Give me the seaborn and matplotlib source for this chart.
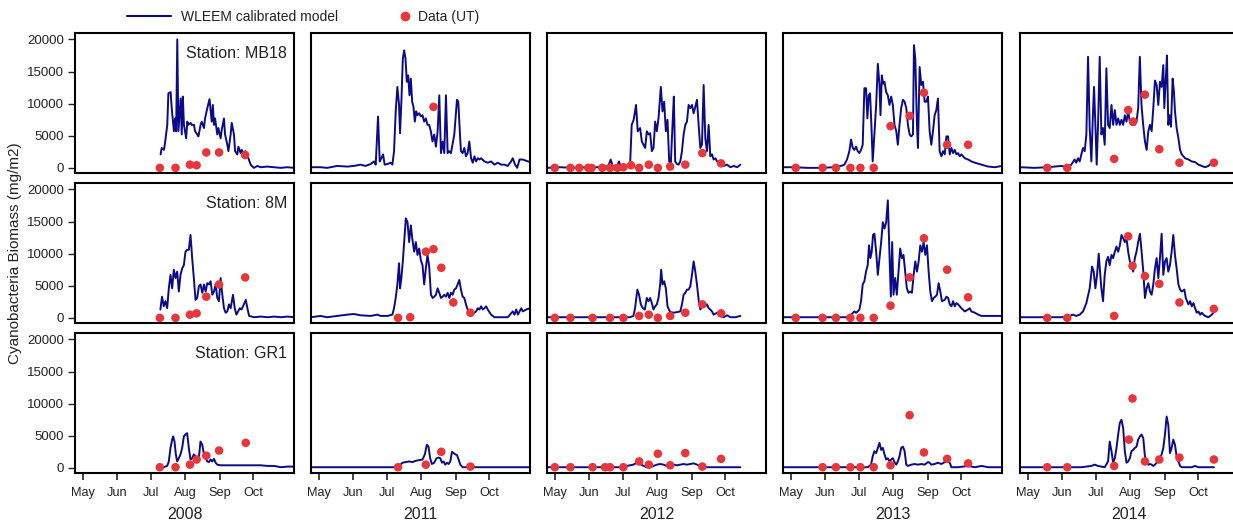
import matplotlib
matplotlib.use("Agg")
import matplotlib.pyplot as plt
import seaborn as sns
import pandas as pd
from matplotlib.lines import Line2D

# ---------------- data (day of year, biomass mg/m2) ----------------
years = ["2008", "2011", "2012", "2013", "2014"]
stations = ["MB18", "8M", "GR1"]
month_days = [121, 152, 182, 213, 244, 274]
month_labels = ["May", "Jun", "Jul", "Aug", "Sep", "Oct"]
y_ticks = [0, 5000, 10000, 15000, 20000]

# WLEEM model, station MB18
model_MB18_2008 = [(191,2100),(192,3100),(194,2800),(195,3900),(197,6700),(198,11600),(200,11800),(201,9300),(203,5700),(204,7700),(205,5700),(206,20000),(207,5700),(209,10800),(210,5200),(211,11100),(212,6700),(214,4600),(215,7200),(216,6700),(218,7000),(219,6700),(221,6700),(222,5700),(224,5200),(225,4900),(227,6700),(228,7200),(230,6200),(231,7700),(233,9300),(235,10700),(237,7200),(238,9800),(239,6700),(240,7700),(242,5200),(243,6200),(245,4600),(246,5900),(248,7700),(249,5200),(251,3600),(252,2600),(254,5200),(255,7000),(257,5200),(258,2600),(260,2100),(261,3300),(263,2300),(264,2800),(266,2100),(267,2600),(269,1800),(270,1500),(272,500),(273,300),(275,0),(278,300),(281,100),(287,200),(293,100),(299,0),(305,100),(311,0)]
model_MB18_2011 = [(114,100),(122.5,100),(128.5,0),(137.6,300),(146.6,200),(152.6,300),(158.6,500),(163,300),(167.7,600),(170.7,1000),(172.2,500),(174.3,8000),(175.8,1000),(177.3,1500),(178.8,2100),(180.3,500),(182.7,600),(185.7,800),(187.2,500),(188.7,2600),(190.2,8800),(191.7,12600),(193.2,9800),(194.1,5400),(195.3,10300),(196.6,17000),(197.8,18300),(199,17000),(200.2,13400),(201.4,14400),(202.6,11300),(203.8,13900),(205,10300),(206.2,9500),(207.4,7200),(208.6,8800),(209.8,8200),(211.3,8500),(212.8,8000),(214.3,8200),(215.8,7200),(217.3,7700),(218.8,6700),(220.3,6700),(221.8,5700),(223.3,4100),(224.8,5200),(226.4,3300),(227.9,5700),(229.4,11300),(230.9,2300),(232.4,4100),(233.9,2300),(235.4,11300),(236.9,2300),(238.4,2600),(239.9,2300),(242.9,5200),(245.3,10600),(246.5,10300),(248,5200),(248.9,2600),(250.4,2300),(251.9,3100),(253.4,1800),(254.9,2300),(256.4,4100),(258,1500),(259.5,800),(261,1800),(262.5,1000),(264,1500),(265.5,1300),(267,1500),(270,1000),(273,800),(276,1000),(279,500),(282,800),(285,500),(288,500),(291,300),(294,1000),(295.5,1500),(297.6,500),(299.5,0),(301.6,1300),(304.6,1300),(307.6,1100),(311,900)]
model_MB18_2012 = [(114,0),(125.5,100),(137.6,0),(149.6,100),(161.6,100),(169.2,300),(171.3,1300),(173.1,300),(176.7,100),(178.8,1000),(180.3,100),(185.7,300),(188.7,300),(190.2,6700),(192,7500),(194.1,9800),(195.6,5700),(197.8,6200),(199.3,4100),(200.8,3600),(202.3,3100),(203.8,5700),(205.3,5200),(206.8,5400),(208.3,2600),(209.8,3100),(211.3,7200),(212.8,5700),(214.3,7700),(216.4,12600),(217.9,8800),(219.4,10300),(220.9,5700),(222.4,7500),(223.9,1000),(225.4,800),(226.9,6700),(228.1,11100),(229.3,1000),(230.9,600),(232.4,500),(233.9,1000),(235.4,2600),(236.9,5200),(238.4,6700),(239.9,7200),(241.4,9800),(242.9,9300),(244.4,9800),(245.9,8500),(247.4,9500),(248.9,10600),(250.4,6700),(251.9,3100),(253.4,3600),(254.9,12900),(256.4,4600),(257.9,2600),(259.4,6700),(260.9,1800),(262.4,2100),(263.9,1300),(265.5,1500),(267,1000),(270,800),(273,300),(276,500),(279,100),(282,300),(285,100),(288,500)]
model_MB18_2013 = [(114,100),(124,100),(136,0),(148.1,0),(160.1,100),(166.2,300),(169.2,500),(171.6,1300),(173.7,2600),(175.2,4400),(176.8,3100),(178.2,2800),(179.7,3300),(181.2,2600),(182.7,2300),(184.2,2800),(185.7,3600),(187.2,12400),(188.7,12400),(189.9,7700),(191.1,11300),(192.3,11600),(193.5,6700),(194.7,1000),(196.2,5200),(197.8,9800),(199.3,16200),(200.8,12900),(201.7,8200),(202.9,14400),(204.1,13100),(205.3,13400),(206.8,11800),(208.3,11300),(209.8,9800),(211.3,11100),(212.8,9800),(214.3,6700),(215.9,5700),(217.3,3600),(218.8,6700),(220.3,9300),(221.9,10600),(223.4,10300),(224.9,9300),(226.4,6700),(227.9,5200),(229.4,4900),(230.9,5200),(231.8,19100),(233,17000),(234.5,6700),(235.4,3100),(236.9,15700),(238.4,12900),(239.9,13400),(241.4,10300),(242.9,10300),(244.4,11100),(245.9,5700),(247.4,3600),(248.9,5700),(250.4,8200),(251.9,9000),(253.4,10800),(254.9,2600),(256.5,1800),(258,2600),(259.5,2100),(261,4900),(262.5,4900),(264,2100),(265.5,3100),(267,2300),(268.5,2800),(270,2100),(271.5,2300),(273,1800),(274.5,2100),(277.5,1500),(280.5,1300),(283.5,1000),(286.6,800),(292.6,500),(298.6,200),(304.6,100),(311,300)]
model_MB18_2014 = [(114,100),(127,0),(139,100),(151.1,300),(157.1,100),(160.1,500),(163.1,1300),(164.6,800),(166.2,1500),(167.7,1000),(169.2,2100),(170.7,3100),(172.2,2600),(173.7,5200),(175.2,17300),(176.7,6200),(178.2,1000),(179.7,8800),(180.6,12600),(181.8,6700),(183,500),(184.2,6700),(185.7,17300),(187.2,5200),(188.7,6200),(190.2,3600),(191.7,15500),(193.2,6700),(194.7,6200),(196.3,9800),(197.8,6700),(199.3,9000),(200.8,6700),(202.3,7700),(203.8,6700),(205.3,7500),(206.8,6700),(208.3,8200),(209.8,7200),(211.3,8800),(212.8,7200),(214.3,6700),(215.8,7700),(217.3,6700),(218.8,7200),(220.3,9300),(221.8,17300),(223.3,9800),(224.8,6700),(226.4,4100),(227.9,2800),(229.4,5700),(230.9,6700),(232.4,5700),(233.9,9300),(235.4,13600),(236.9,12900),(238.4,9800),(239.9,13400),(241.4,12600),(242.9,16000),(243.8,9300),(245,13400),(246.2,17500),(247.4,6700),(248.6,8200),(249.8,6400),(251.3,13900),(252.5,11800),(253.4,8800),(254.9,6200),(256.5,4600),(258,2800),(259.5,2100),(262.5,1500),(265.5,1300),(268.5,1000),(271.5,900),(274.5,500),(277.5,300),(280.5,100),(283.5,300),(286.6,800)]

# WLEEM model, station 8M
model_8M_2008 = [(190.8,1300),(192.3,3300),(193.8,1800),(195.3,2600),(196.9,1500),(198.4,4600),(199.9,6700),(201.4,4600),(202.9,7500),(204.4,6200),(205.9,7200),(207.4,4100),(208.9,6700),(210.4,7700),(211.9,8200),(213.4,10300),(214.9,10600),(216.4,10600),(217.9,12900),(219.4,9300),(220.9,6200),(222.4,2800),(223.9,3100),(225.4,4900),(226.9,5200),(228.5,3900),(230,5200),(231.5,4100),(233,5400),(234.5,5200),(236,5700),(237.5,3600),(239,4100),(240.5,5200),(242,3100),(243.5,2600),(245,6200),(246.5,3600),(248,1500),(249.5,800),(251,1000),(252.5,2100),(254,1500),(256.1,3600),(257.7,1500),(259.2,500),(260.7,1000),(262.2,1500),(263.7,1300),(265.2,1800),(267.6,2800),(269.1,1500),(270.6,300),(275.1,100),(281.1,200),(287.2,100),(293.2,200),(299.2,100),(305.2,200),(311,100)]
model_8M_2011 = [(114,100),(122.5,300),(128.5,100),(137.6,300),(146.6,500),(152.6,600),(158.6,400),(167.7,300),(173.7,500),(176.7,300),(182.7,300),(187.2,500),(188.7,1500),(190.2,3100),(191.7,5200),(193.2,8500),(194.1,4600),(195.3,6200),(196.6,8800),(197.8,11800),(199.3,15500),(200.8,14900),(202.3,11800),(203.8,14400),(205.3,12100),(206.8,10300),(208.3,11800),(209.8,9800),(211.3,10800),(212.8,9000),(214.3,8200),(215.8,5200),(217.3,7700),(218.8,9800),(220.3,8000),(221.9,3600),(223.4,3100),(224.9,3300),(226.4,3600),(227.9,4600),(229.4,3900),(230.9,3100),(232.4,3300),(233.9,3600),(235.4,3300),(236.9,3900),(238.4,3100),(239.9,3900),(241.4,3600),(242.9,4400),(244.4,4600),(245.9,5200),(247.4,5900),(248.9,4400),(250.4,3300),(251.9,3100),(253.4,2100),(254.9,1300),(256.5,500),(258,300),(259.5,500),(261,800),(262.5,1000),(264,1500),(265.5,1300),(267,1800),(268.5,1300),(270,1500),(271.5,1800),(273,1300),(276,500),(279,100),(285,100),(291,100),(295.5,1000),(297,500),(298.6,1300),(300.1,500),(303.1,1500),(304.6,1000),(307.6,1300),(311,1500)]
model_8M_2012 = [(114,100),(125.5,100),(137.6,100),(152.6,100),(167.7,100),(179.7,100),(188.7,100),(191.7,300),(193.2,1500),(195.3,4400),(196.8,3600),(198.4,2100),(200.2,1500),(202,1300),(203.8,3100),(205.3,2600),(206.8,3100),(208.3,2300),(209.8,1300),(211.3,1800),(212.8,2100),(214.3,3100),(215.8,5200),(216.7,7500),(217.9,5200),(219.4,5700),(220.9,4600),(222.4,1800),(224.8,900),(227.9,800),(230.9,900),(233.9,1000),(235.4,2100),(236.9,3600),(238.4,3900),(239.9,4400),(241.4,4400),(242.9,4900),(244.4,6700),(245.9,8800),(247.4,7200),(248.9,5200),(250.4,2800),(251.9,1300),(253.4,1800),(254.9,2300),(256.4,1800),(257.9,2100),(259.4,1500),(260.9,1300),(262.4,1000),(263.9,500),(267,800),(270,300),(273,100),(276,400),(279,100),(283.5,100),(288,300)]
model_8M_2013 = [(114,100),(124,100),(136,100),(148.1,100),(160.1,100),(172.2,100),(175.2,500),(178.2,1000),(179.7,800),(181.2,1000),(182.7,1300),(184.2,2600),(185.7,5200),(187.2,5700),(188.7,7200),(190.2,8200),(191.4,11300),(192.6,9300),(193.8,10300),(195,12900),(196.2,13100),(197.8,10300),(199.3,6700),(200.8,9300),(202.3,11800),(203.8,14900),(205.3,13900),(206.8,14900),(208.3,18300),(209.8,9800),(211,3300),(212.2,11800),(213.4,3600),(214.9,6200),(216.4,3600),(217.9,7200),(219.4,10800),(220.9,9300),(222.4,9800),(223.9,7200),(225.4,4600),(226.9,3900),(228.5,4100),(230,3900),(231.5,6700),(233,8800),(234.5,7200),(236,8800),(237.5,11300),(239,10300),(240.5,11800),(242,9800),(243.5,11300),(245,7200),(246.5,4100),(248,2600),(249.5,3100),(251,3300),(252.5,3600),(254,5400),(255.5,4100),(257,2600),(259.5,2800),(261,3300),(262.5,3100),(264,2100),(265.5,1800),(267,2600),(268.5,1800),(270,2300),(271.5,2100),(274.5,1500),(277.5,1000),(280.5,1300),(282,1500),(283.5,1000),(286.6,800),(289.6,500),(292.6,300),(298.6,300),(304.6,300),(311,300)]
model_8M_2014 = [(114,100),(127,100),(139,100),(151.1,100),(157.1,200),(161.6,500),(164.6,300),(167.7,500),(170.7,1000),(173.7,2300),(176.7,4600),(178.8,8000),(180.3,7200),(181.8,4600),(183.3,6700),(184.8,10000),(186,7200),(187.2,4600),(188.7,2600),(190.2,6700),(191.7,8800),(193.2,9500),(194.7,8200),(196.3,9800),(197.8,9300),(199.3,10300),(200.8,11100),(202.3,10300),(203.8,11300),(205.3,12900),(206.8,12400),(208.3,11800),(209.8,12400),(211.3,10300),(212.8,8800),(214.3,8200),(215.8,7200),(217.3,9300),(218.8,10300),(220.3,11800),(221.9,13100),(223.4,10300),(224.9,7200),(226.4,3100),(227.9,4600),(229.4,5400),(230.9,4100),(232.4,3600),(233.9,5200),(235.4,7700),(236.9,9300),(238.4,6200),(239.9,9300),(241.4,13100),(242.9,6700),(244.4,8800),(245.9,9300),(247.4,7200),(248.9,8200),(250.4,10300),(251.9,12900),(253.4,9800),(254.9,7700),(256.5,5200),(258,4400),(259.5,4100),(261.9,4400),(263.1,3100),(265.5,2100),(267,2600),(268.5,1800),(270,2300),(271.5,1500),(273,800),(274.5,1000),(276,500),(277.5,800),(279,500),(280.5,300),(283.5,100),(286.6,500),(288.4,900)]

# WLEEM model, station GR1
model_GR1_2008 = [(190.8,100),(193.8,100),(196.9,300),(198.4,1000),(199.9,3100),(201.4,4400),(202.3,4900),(203.5,4100),(204.7,2100),(205.9,1000),(207.4,1500),(208.9,2100),(210.4,3100),(211.9,4900),(213.4,5200),(214.9,5400),(216.4,3100),(217.9,1300),(219.4,1500),(220.9,2100),(222.4,1800),(223.9,1000),(225.4,1500),(226.9,4100),(228.5,3600),(230,2100),(231.5,1500),(233,1000),(234.5,900),(236,1300),(237.5,1000),(239,1400),(240.5,800),(242,500),(245,400),(251,400),(257,400),(263.1,400),(269.1,400),(275.1,400),(281.1,400),(287.2,300),(293.2,300),(299.2,100),(305.2,200),(311,200)]
model_GR1_2011 = [(114,100),(128.5,100),(143.6,100),(158.6,100),(173.7,100),(188.7,100),(193.2,300),(196.3,800),(199.3,900),(202.3,1000),(205.3,900),(208.3,1100),(211.3,1200),(214.3,1300),(216.4,2100),(218.2,3600),(219.7,3300),(221.2,1500),(222.7,600),(224.8,800),(226.9,1500),(228.8,1600),(230.3,1500),(231.8,800),(233.3,1000),(234.8,500),(236.3,800),(237.8,600),(239.3,1000),(240.8,2500),(242.3,2300),(243.8,2100),(245.3,2000),(246.8,1300),(248.3,500),(250.4,100),(264,100),(279,100),(294,100),(311,100)]
model_GR1_2012 = [(114,100),(137.6,100),(152.6,100),(167.7,100),(179.7,100),(185.7,300),(191.7,500),(194.7,800),(197.8,600),(200.8,300),(203.8,100),(206.8,100),(209.8,300),(212.8,500),(215.8,600),(218.8,500),(221.8,300),(224.8,400),(227.9,500),(230.9,400),(233.9,500),(236.9,600),(239.9,500),(242.9,600),(245.9,700),(248.9,500),(251.9,300),(254.9,100),(264,100),(276,100),(288,100)]
model_GR1_2013 = [(114,100),(124,100),(136,100),(151.1,100),(166.2,100),(181.2,100),(190.2,100),(193.2,500),(194.7,1800),(196.2,2600),(197.8,2300),(199.3,3100),(200.8,3900),(202.3,2800),(203.8,3100),(205.3,2100),(206.8,1300),(208.3,1500),(209.8,1000),(211.3,1300),(212.8,1500),(214.3,900),(215.9,500),(217.3,1000),(218.8,1800),(220.3,3100),(221.9,3300),(223.4,2600),(224.9,500),(226.4,300),(229.4,500),(232.4,600),(235.4,500),(238.4,600),(241.4,500),(244.4,900),(245.9,800),(247.4,500),(250.4,600),(253.4,800),(256.5,600),(259.5,900),(262.5,1100),(264,800),(265.5,100),(271.5,100),(280.5,300),(286.6,100),(292.6,300),(298.6,100),(311,100)]
model_GR1_2014 = [(114,100),(133,100),(151.1,100),(169.2,100),(178.2,300),(181.2,500),(184.2,300),(190.2,100),(193.2,1000),(194.7,4100),(196.3,2600),(197.8,800),(199.3,1500),(200.8,3100),(202.3,5200),(203.8,7000),(205.3,7500),(206.8,6200),(208.3,2600),(209.8,800),(211.3,1000),(212.8,1500),(214.3,2600),(215.8,2800),(217.3,3100),(218.8,3300),(220.3,4400),(221.9,4900),(223.4,5200),(224.9,4600),(226.4,1800),(227.9,800),(229.4,500),(230.9,600),(232.4,500),(233.9,300),(235.4,500),(236.9,800),(238.4,1000),(239.9,1500),(241.4,2100),(242.9,3100),(244.4,5200),(245.9,8000),(247.4,6700),(248.9,2300),(250.4,3100),(251.9,4400),(253.4,3600),(254.9,1800),(256.5,1000),(258,300),(259.5,100),(268.5,100),(271.5,300),(274.5,100),(280.5,100),(288.4,100)]

# Observations (UT)
obs_MB18_2008 = [(190.3,0),(204.4,0),(217.4,500),(223.4,400),(232.1,2400),(243.6,2400),(267.1,2000)]
obs_MB18_2011 = [(224.2,9500)]
obs_MB18_2012 = [(121,0),(135.1,0),(143,0),(151.1,0),(154.1,0),(163.7,0),(170.7,0),(177.3,0),(182.7,100),(189.6,400),(196.9,0),(205.6,500),(213.7,0),(224.8,200),(238.4,500),(253.7,2300),(270.6,700)]
obs_MB18_2013 = [(125.5,0),(149.6,0),(161.6,0),(174.6,0),(183.6,0),(195.6,0),(210.7,6500),(227.9,8100),(240.8,11700),(261.6,3600),(280.5,3600)]
obs_MB18_2014 = [(138.5,0),(156.5,0),(198.7,1400),(211.3,9000),(215.8,7200),(226.4,11400),(239.3,2900),(257.4,800),(288.4,800)]

obs_8M_2008 = [(190.3,0),(204.4,0),(217.4,500),(223.4,700),(232.1,3300),(243.6,5200),(267.1,6300)]
obs_8M_2011 = [(192.3,0),(203.2,100),(217.3,10300),(224.2,10700),(231.2,7800),(242,2400),(257.4,800)]
obs_8M_2012 = [(121,0),(135.1,0),(155,0),(170.7,0),(182.7,0),(196.9,300),(205.6,500),(213.7,0),(224.8,300),(238.4,800),(253.7,2100),(270.6,700)]
obs_8M_2013 = [(125.5,0),(149.6,0),(161.6,0),(174.6,0),(183.6,0),(195.6,0),(210.7,1900),(227.9,6300),(240.8,12400),(261.6,7500),(280.5,3200)]
obs_8M_2014 = [(138.5,0),(156.5,0),(198.7,300),(211.3,12700),(215.2,8100),(226.4,6500),(239.3,5300),(257.4,2400),(288.4,1400)]

obs_GR1_2008 = [(190.3,100),(204.4,100),(217.4,500),(223.4,1300),(232.1,1900),(243.6,2700),(267.6,3900)]
obs_GR1_2011 = [(192.3,100),(217.3,500),(231.2,2500),(257.4,200)]
obs_GR1_2012 = [(121,100),(135.1,100),(155,100),(166.2,100),(170.7,100),(182.7,100),(196.9,1000),(205.6,500),(213.7,2200),(224.8,400),(238.4,2300),(253.7,200),(270.6,1400)]
obs_GR1_2013 = [(149.6,100),(161.6,100),(174.6,100),(183.6,100),(195.6,100),(210.7,400),(227.9,8200),(240.8,2400),(261.6,1400),(280.5,700)]
obs_GR1_2014 = [(138.5,100),(156.5,100),(198.7,300),(211.9,4400),(215.2,10800),(226.4,1000),(239.3,1300),(257.4,1600),(288.4,1300)]

model = {
    "MB18": [model_MB18_2008, model_MB18_2011, model_MB18_2012, model_MB18_2013, model_MB18_2014],
    "8M": [model_8M_2008, model_8M_2011, model_8M_2012, model_8M_2013, model_8M_2014],
    "GR1": [model_GR1_2008, model_GR1_2011, model_GR1_2012, model_GR1_2013, model_GR1_2014],
}
obs = {
    "MB18": [obs_MB18_2008, obs_MB18_2011, obs_MB18_2012, obs_MB18_2013, obs_MB18_2014],
    "8M": [obs_8M_2008, obs_8M_2011, obs_8M_2012, obs_8M_2013, obs_8M_2014],
    "GR1": [obs_GR1_2008, obs_GR1_2011, obs_GR1_2012, obs_GR1_2013, obs_GR1_2014],
}

# ---------------- style ----------------
sns.set_theme(style="white")
plt.rcParams["font.family"] = ["Liberation Sans", "DejaVu Sans"]
plt.rcParams["text.color"] = "#222222"
plt.rcParams["axes.labelcolor"] = "#222222"
plt.rcParams["xtick.color"] = "#222222"
plt.rcParams["ytick.color"] = "#222222"

LINE_C = "#0b0b8a"
DOT_C = "#e8363b"

W, H = 1233, 521
fig = plt.figure(figsize=(W / 100, H / 100), dpi=100)
fig.patch.set_facecolor("white")

lefts = [75, 311, 547, 783, 1020]
tops = [33, 183, 333]
pw, ph = 219, 140

for r, st in enumerate(stations):
    for c, yr in enumerate(years):
        ax = fig.add_axes([lefts[c] / W, 1 - (tops[r] + ph) / H, pw / W, ph / H])
        ax.set_facecolor("white")
        mdf = pd.DataFrame(model[st][c], columns=["day", "biomass"])
        odf = pd.DataFrame(obs[st][c], columns=["day", "biomass"])
        sns.lineplot(data=mdf, x="day", y="biomass", ax=ax, color=LINE_C,
                     linewidth=1.4, estimator=None, sort=False)
        sns.scatterplot(data=odf, x="day", y="biomass", ax=ax, color=DOT_C,
                        s=38, edgecolor="none", zorder=3)
        ax.set_xlim(114, 311)
        ax.set_ylim(-800, 21000)
        for sp in ax.spines.values():
            sp.set_visible(True)
            sp.set_color("black")
            sp.set_linewidth(1.5)
        ax.set_ylabel("")
        if c == 0:
            ax.set_yticks(y_ticks)
            ax.set_yticklabels([str(v) for v in y_ticks])
            ax.tick_params(axis="y", left=True, length=5, width=1, pad=3,
                           labelsize=9.5)
        else:
            ax.set_yticks([])
        if r == 2:
            ax.set_xticks(month_days)
            ax.set_xticklabels(month_labels)
            ax.tick_params(axis="x", bottom=True, length=5, width=1.2, pad=5,
                           labelsize=9.2)
            ax.set_xlabel(yr, fontsize=11.5, labelpad=6)
        else:
            ax.set_xticks([])
            ax.set_xlabel("")
        if c == 0:
            ax.text(0.968, 0.857, f"Station: {st}", transform=ax.transAxes,
                    ha="right", va="center", fontsize=11.5)

fig.text(15 / W, 1 - 253 / H, "Cyanobacteria Biomass (mg/m2)", rotation=90,
         ha="center", va="center", fontsize=11)

h1 = Line2D([], [], color=LINE_C, linewidth=1.5)
h2 = Line2D([], [], color=DOT_C, marker="o", linestyle="none", markersize=6)
fig.legend([h1], ["WLEEM calibrated model"], loc="center left",
           bbox_to_anchor=(127 / W, 1 - 17 / H), frameon=False, fontsize=10,
           handlelength=3.2, handletextpad=0.7, borderpad=0, borderaxespad=0)
fig.legend([h2], ["Data (UT)"], loc="center left",
           bbox_to_anchor=(398 / W, 1 - 17 / H), frameon=False, fontsize=10,
           handlelength=1.0, handletextpad=0.45, borderpad=0, borderaxespad=0)

fig.savefig("out.png", dpi=100, facecolor="white")
